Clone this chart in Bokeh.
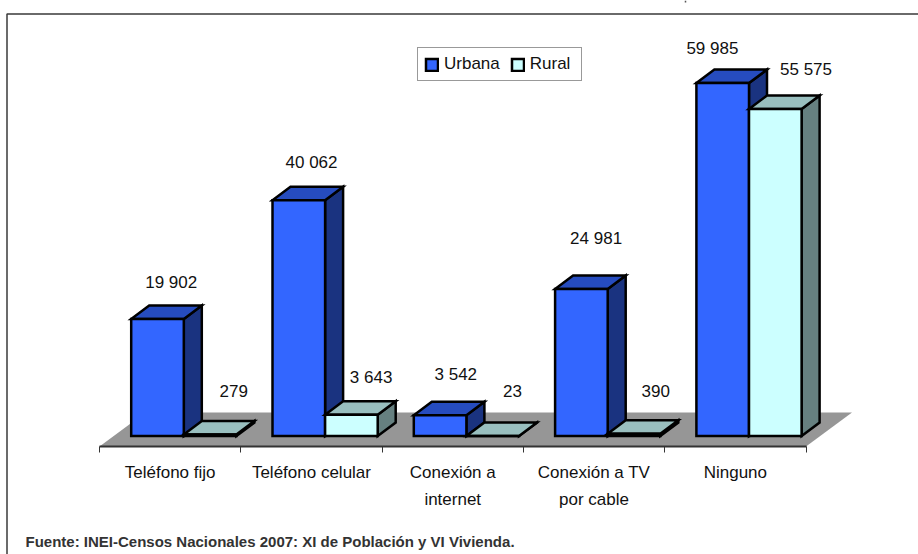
from bokeh.core.properties import value
from bokeh.embed import file_html
from bokeh.models import ColumnDataSource, FixedTicker, Legend, LegendItem, Range1d
from bokeh.plotting import figure
from bokeh.resources import INLINE

categories = ["Teléfono fijo", "Teléfono celular", "Conexión a\ninternet", "Conexión a TV\npor cable", "Ninguno"]
urbana = [19902, 40062, 3542, 24981, 59985]
rural = [279, 3643, 23, 390, 55575]
series_names = ["Urbana", "Rural"]
footnote = "Fuente: INEI-Censos Nacionales 2007: XI de Población y VI Vivienda."

W, H = 918, 554
FONT = "Liberation Sans"
X0, GROUP = 99.0, 141.3      # px of category 0 boundary, px per category
Y0, K = 435.6, 353.0 / 59985  # px of value 0, px per unit
BAR_W = 52.6 / GROUP
BAR_OFF = 31.7 / GROUP
DX, DY = 18.0 / GROUP, 13.5 / K  # depth of the bars in data units
FLOOR_FRONT, FLOOR_BACK = -10.4 / K, 23.6 / K
FLOOR_DX = 46.0 / GROUP

def xu(px):
    return (px - X0) / GROUP

def yv(px):
    return (Y0 - px) / K

p = figure(width=W, height=H, output_backend="svg", toolbar_location=None,
           x_range=Range1d(xu(0), xu(W)), y_range=Range1d(yv(H), yv(0)),
           min_border=0, tools="")
p.grid.visible = False
p.yaxis.visible = False
p.outline_line_color = None
p.background_fill_color = "white"
p.border_fill_color = "white"

# outer chart border
p.line([xu(6.5), xu(6.5), xu(919)], [yv(556), yv(13.5), yv(13.5)], line_color="#3a3a3a", line_width=1.5)
# remnant of the cropped text at the very top edge
p.line([xu(685), xu(685)], [yv(0), yv(2)], line_color="#555555", line_width=1.5)

# floor
n = len(categories)
p.patch([0, n, n + FLOOR_DX, FLOOR_DX], [FLOOR_FRONT, FLOOR_FRONT, FLOOR_BACK, FLOOR_BACK],
        fill_color="#969696", line_color=None)

def bars(values, offset, front, top, side):
    lefts = [i + BAR_OFF + offset for i in range(n)]
    rights = [l + BAR_W for l in lefts]
    top_xs = [[l, r, r + DX, l + DX] for l, r in zip(lefts, rights)]
    top_ys = [[v, v, v + DY, v + DY] for v in values]
    side_xs = [[r, r + DX, r + DX, r] for r in rights]
    side_ys = [[0, DY, v + DY, v] for v in values]
    style = dict(line_color="black", line_width=2.5, line_join="miter")
    for i in range(n):
        p.patch(side_xs[i], side_ys[i], fill_color=side, **style)
        p.patch(top_xs[i], top_ys[i], fill_color=top, **style)
    src = ColumnDataSource(dict(left=lefts, right=rights, top=values, bottom=[0] * n))
    return p.quad(left="left", right="right", top="top", bottom="bottom", source=src, fill_color=front, **style)

r_u = bars(urbana, 0.0, "#3366FF", "#264CBF", "#1A3380")
r_r = bars(rural, BAR_W, "#CCFFFF", "#99BFBF", "#668080")

# value labels: pixel offsets from the top-left of each bar's front face
dx_u = [40, 39, 42, 41, 16]
dy_u = [-36, -38, -41, -51, -35]
dx_r = [50, 46, 46, 48, 57]
dy_r = [-43, -37, -45, -43, -40]
def fmt(v):
    return f"{v:,}".replace(",", " ")
tx, ty, tt = [], [], []
for i in range(n):
    for vals, off, dxs, dys in ((urbana, 0.0, dx_u, dy_u), (rural, BAR_W, dx_r, dy_r)):
        tx.append(i + BAR_OFF + off + dxs[i] / GROUP)
        ty.append(vals[i] - dys[i] / K)
        tt.append(fmt(vals[i]))
p.text(tx, ty, text=tt, text_font=value(FONT), text_font_size="17px", text_color="#111111",
       text_align="center", text_baseline="middle")

# category axis
ax = p.xaxis[0]
ax.fixed_location = FLOOR_FRONT
ax.bounds = (0, n)
ax.ticker = FixedTicker(ticks=[i + 0.5 for i in range(n)], minor_ticks=list(range(n + 1)))
ax.major_label_overrides = {i + 0.5: c for i, c in enumerate(categories)}
ax.axis_line_color = "#333333"
ax.axis_line_width = 2
ax.major_tick_line_color = None
ax.major_tick_out = 6
ax.major_tick_in = 0
ax.minor_tick_line_color = "#333333"
ax.minor_tick_out = 6
ax.minor_tick_in = 0
ax.minor_tick_line_width = 1
ax.major_label_standoff = 10
ax.major_label_text_font = FONT
ax.major_label_text_font_size = "17px"
ax.major_label_text_color = "#111111"
ax.major_label_text_line_height = 1.43

# source note
p.text([xu(25)], [yv(541)], text=[footnote], text_font=value(FONT), text_font_style="bold",
       text_font_size="15px", text_color="#333333", text_align="left", text_baseline="middle")

legend = Legend(items=[LegendItem(label=series_names[0], renderers=[r_u]),
                       LegendItem(label=series_names[1], renderers=[r_r])],
                orientation="horizontal", location=(417, H - 81),
                padding=6, spacing=10, margin=0, glyph_width=15, glyph_height=15,
                label_standoff=5, label_width=45, label_text_font=FONT, label_text_font_size="17px",
                label_text_color="#111111", label_height=18,
                border_line_color="#333333", border_line_width=1,
                background_fill_color="white", background_fill_alpha=1)
p.add_layout(legend, "center")

open("out.html", "w").write(file_html(p, INLINE))
